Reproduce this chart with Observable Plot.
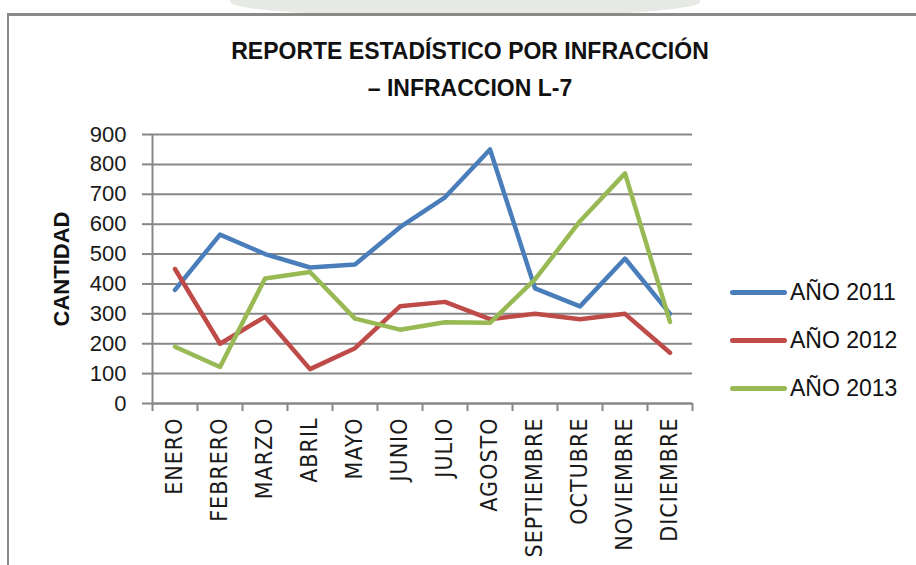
<!DOCTYPE html>
<html>
<head>
<meta charset="utf-8">
<script src="https://cdn.jsdelivr.net/npm/d3@7"></script>
<script src="https://cdn.jsdelivr.net/npm/@observablehq/plot@0.6"></script>
<style>
  html, body { margin: 0; padding: 0; background: #fff; }
  #page { position: relative; width: 916px; height: 565px; overflow: hidden; background: #fff; font-family: "Liberation Sans", Arial, sans-serif; }
  #wm { position: absolute; left: 230px; top: -20px; width: 470px; height: 36px; background: #e6e9e4; border-radius: 40%; }
  #frame { position: absolute; left: 7px; top: 13px; width: 930px; height: 600px; border: 2px solid #8a8a8a; border-top-width: 3px; box-sizing: border-box; }
  #chart { position: absolute; left: 0; top: 0; }
  #title { position: absolute; left: 170px; width: 600px; top: 33px; text-align: center; font-weight: bold; font-size: 23px; line-height: 37px; color: #111; }
  #ylab { position: absolute; left: 62px; top: 269px; transform: translate(-50%, -50%) rotate(-90deg); font-weight: bold; font-size: 22px; color: #111; white-space: nowrap; }
  #legend { position: absolute; left: 730px; top: 278px; }
  .li { position: relative; height: 48px; }
  .li .sw { position: absolute; left: 0; top: 12px; width: 57px; height: 5px; border-radius: 3px; }
  .li .tx { position: absolute; left: 60px; top: -1px; font-size: 23px; line-height: 30px; color: #111; white-space: nowrap; }
  .xl text { letter-spacing: 1px; }
</style>
</head>
<body>
<div id="page">
  <div id="wm"></div>
  <div id="frame"></div>
  <div id="chart"></div>
  <div id="title">REPORTE ESTADÍSTICO POR INFRACCIÓN<br>– INFRACCION L-7</div>
  <div id="ylab">CANTIDAD</div>
  <div id="legend"></div>
</div>
<script>
const meses = ["ENERO","FEBRERO","MARZO","ABRIL","MAYO","JUNIO","JULIO","AGOSTO","SEPTIEMBRE","OCTUBRE","NOVIEMBRE","DICIEMBRE"];
const series = ["AÑO 2011","AÑO 2012","AÑO 2013"];
const colores = ["#4A7EBB","#BE4B48","#98B954"];
const anio2011 = [380, 565, 500, 455, 465, 590, 690, 850, 385, 325, 485, 300];
const anio2012 = [450, 200, 290, 115, 185, 325, 340, 282, 300, 282, 300, 170];
const anio2013 = [190, 122, 418, 440, 284, 247, 272, 270, 415, 610, 770, 273];
const yTicks = [0,100,200,300,400,500,600,700,800,900];

const valores = [anio2011, anio2012, anio2013];
const rows = [];
series.forEach((s, k) => valores[k].forEach((v, i) => rows.push({serie: s, i, mes: meses[i], valor: v})));

const bordes = d3.range(meses.length + 1);
const centros = meses.map((m, i) => i + 0.5);

const gridColor = "#878787";

const chart = Plot.plot({
  width: 916,
  height: 565,
  marginLeft: 152,
  marginRight: 224,
  marginTop: 134,
  marginBottom: 162,
  style: {fontFamily: "'Liberation Sans', Arial, sans-serif", color: "#1a1a1a", background: "transparent"},
  x: {type: "linear", domain: [0, meses.length], axis: null},
  y: {domain: [0, 900], axis: null},
  color: {domain: series, range: colores},
  marks: [
    Plot.gridY(yTicks, {stroke: gridColor, strokeOpacity: 1, strokeWidth: 2}),
    Plot.axisY(yTicks, {tickSize: 10, tickPadding: 16, stroke: gridColor, strokeWidth: 2, fontSize: 22, fill: "#1a1a1a", label: null}),
    Plot.ruleX([0], {stroke: gridColor, strokeWidth: 2}),
    Plot.ruleY([0], {stroke: gridColor, strokeWidth: 2}),
    Plot.axisX(bordes, {tickSize: 8, stroke: gridColor, strokeWidth: 2, tickFormat: () => "", label: null}),
    Plot.axisX(centros, {tickSize: 0, tickPadding: 14, tickRotate: -90, textAnchor: "end", lineAnchor: "middle",
      tickFormat: d => meses[Math.floor(d)], fontSize: 23, fontFamily: "'Liberation Sans Narrow', 'DejaVu Sans Condensed', sans-serif", fill: "#1a1a1a", label: null, className: "xl"}),
    Plot.line(rows, {x: d => d.i + 0.5, y: "valor", z: "serie", stroke: "serie", strokeWidth: 4.5, strokeLinejoin: "round", strokeLinecap: "round"})
  ]
});
document.getElementById("chart").appendChild(chart);

const leg = document.getElementById("legend");
series.forEach((s, k) => {
  const d = document.createElement("div");
  d.className = "li";
  d.innerHTML = `<div class="sw" style="background:${colores[k]}"></div><div class="tx">${s}</div>`;
  leg.appendChild(d);
});
</script>
</body>
</html>
